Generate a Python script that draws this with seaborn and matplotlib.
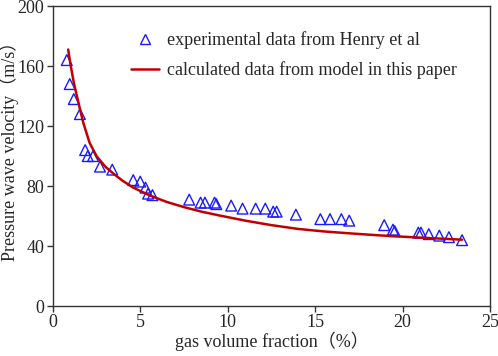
import numpy as np
import pandas as pd
import matplotlib
matplotlib.use('Agg')
import matplotlib.pyplot as plt
from matplotlib.lines import Line2D
import seaborn as sns

sns.set_style("ticks")
plt.rcParams['font.family'] = ['Liberation Serif', 'Noto Sans CJK SC']

# experimental data (Henry et al)
exp_x = [0.80, 0.97, 1.20, 1.55, 1.85, 2.0, 2.3, 2.7, 3.4, 4.6, 5.0, 5.3, 5.45, 5.7,
         7.8, 8.45, 8.7, 9.25, 9.35, 10.2, 10.85, 11.6, 12.15, 12.6, 12.8, 13.9,
         15.3, 15.85, 16.5, 16.95, 18.95, 19.45, 19.55, 20.9, 21.05, 21.5, 22.1, 22.65, 23.4]
exp_v = [164, 148, 138, 128, 104, 100, 100, 93, 91, 84, 83, 79, 75, 74,
         71, 69, 69, 69, 68, 67, 65, 65, 65, 63, 63, 61,
         58, 58, 58, 57, 54, 51, 50, 49, 49, 48, 47, 46, 44]

# model curve
mod_x = [0.88, 1.0, 1.2, 1.5, 1.75, 2.1, 2.5, 3.0, 3.5, 4.0, 4.6, 5.5, 6.5, 7.5, 8.5,
         9.5, 11, 12.5, 14, 15.5, 17, 18.5, 20, 21.5, 23.4]
mod_v = [171, 162, 149, 134, 122, 109, 100, 93, 88, 83.5, 79, 74, 69.5, 66, 63,
         60.5, 57, 54, 51.5, 49.8, 48.5, 47.3, 46.3, 45.4, 44.3]

lab_exp = 'experimental data from Henry et al'
lab_mod = 'calculated data from model in this paper'

df_exp = pd.DataFrame({'x': exp_x, 'v': exp_v})
df_mod = pd.DataFrame({'x': mod_x, 'v': mod_v})

fig = plt.figure(figsize=(4.98, 3.56), dpi=100)
ax = fig.add_axes([0.106, 0.140, 0.878, 0.843])

sns.lineplot(data=df_mod, x='x', y='v', ax=ax, color='#c00000', lw=1.8, legend=False)
sns.scatterplot(data=df_exp, x='x', y='v', ax=ax, marker='^', s=60,
                fc='none', ec='#1a1aff', linewidth=1.0, legend=False)

ax.set_xlim(0, 25)
ax.set_ylim(0, 200)
ax.set_xticks([0, 5, 10, 15, 20, 25])
ax.set_yticks([0, 40, 80, 120, 160, 200])
ax.tick_params(labelsize=13, length=4, width=1, color='#333333', pad=2)
for s in ax.spines.values():
    s.set_color('#333333')
    s.set_linewidth(1.0)
ax.set_xlabel('gas volume fraction（%）', fontsize=13, labelpad=0)
ax.set_ylabel('Pressure wave velocity（m/s）', fontsize=13)
ax.yaxis.set_label_coords(-0.078, 0.53)

handles = [Line2D([], [], ls='none', marker='^', ms=7, mfc='none', mec='#1a1aff', mew=1.0),
           Line2D([], [], color='#c00000', lw=1.8)]
ax.legend(handles, [lab_exp, lab_mod], loc='upper left', bbox_to_anchor=(0.18, 0.915),
          frameon=False, fontsize=13, handlelength=1.5, handletextpad=0.45,
          labelspacing=0.65, borderpad=0, borderaxespad=0)

fig.savefig('out.png', dpi=100)
